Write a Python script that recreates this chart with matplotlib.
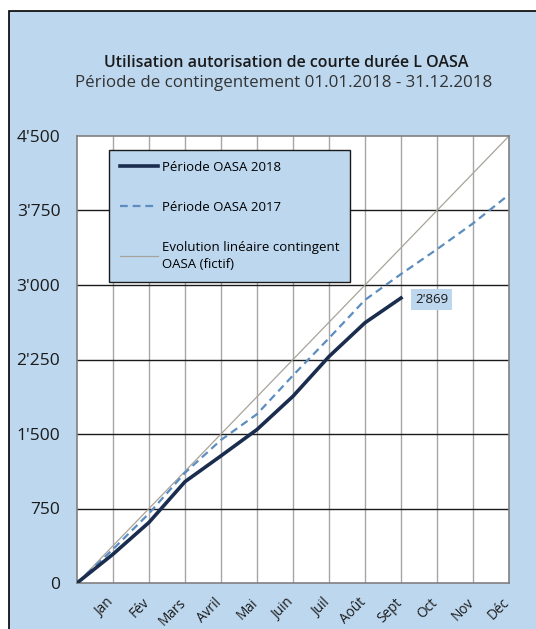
import matplotlib
matplotlib.use("Agg")
import matplotlib.pyplot as plt
from matplotlib.patches import Rectangle
from matplotlib.transforms import ScaledTranslation

plt.rcParams['font.family'] = ['Open Sans', 'DejaVu Sans']

months = ["Jan", "Fév", "Mars", "Avril", "Mai", "Juin", "Juil", "Août", "Sept", "Oct", "Nov", "Déc"]
x_pos = list(range(0, 13))
oasa_2018 = [0, 290, 610, 1020, 1280, 1545, 1880, 2280, 2620, 2869]
oasa_2017 = [0, 340, 700, 1110, 1440, 1700, 2090, 2465, 2850, 3110, 3360, 3620, 3910]
linear = [0, 375, 750, 1125, 1500, 1875, 2250, 2625, 3000, 3375, 3750, 4125, 4500]
y_ticks = [0, 750, 1500, 2250, 3000, 3750, 4500]
y_labels = ["0", "750", "1'500", "2'250", "3'000", "3'750", "4'500"]
last_label = "2'869"

W, H = 536, 629
fig = plt.figure(figsize=(W/100, H/100), dpi=100)
fig.patch.set_facecolor('white')
bg = '#BDD7EE'
fig.patches.append(Rectangle((9/W, -0.01), 1.0, 1 - 11/H + 0.01, transform=fig.transFigure,
                             facecolor=bg, edgecolor='black', linewidth=1.2, zorder=-10))

ax = fig.add_axes([77/W, 1 - 583/H, (509-77)/W, (583-136)/H])
ax.set_zorder(2)
ax.set_facecolor('white')
ax.set_xlim(0, 12)
ax.set_ylim(0, 4500)

for xv in range(1, 12):
    ax.axvline(xv, color='#A6A6A6', lw=1.0, zorder=1)
for yv in y_ticks[1:-1]:
    ax.axhline(yv, color='#1a1a1a', lw=1.0, zorder=1)

ax.plot(x_pos, linear, color='#A8A39A', lw=0.9, zorder=2, label='Evolution linéaire contingent\nOASA (fictif)')
ax.plot(x_pos[:len(oasa_2017)], oasa_2017, color='#5B8DC0', lw=1.6, ls=(0, (3.5, 2.2)), zorder=3, label='Période OASA 2017')
ax.plot(x_pos[:len(oasa_2018)], oasa_2018, color='#1B2D4F', lw=2.6, zorder=4, label='Période OASA 2018')

ax.annotate(last_label, xy=(x_pos[len(oasa_2018)-1], oasa_2018[-1]), xytext=(22, -1), textcoords='offset points',
            fontsize=9.5, color='#1a1a1a', va='center', ha='center',
            bbox=dict(boxstyle='square,pad=0.3', facecolor=bg, edgecolor='none'), zorder=5)

for s in ax.spines.values():
    s.set_color('#808080')
    s.set_linewidth(1.2)

ax.set_yticks(y_ticks)
ax.set_yticklabels(y_labels, fontsize=12.5, color='#1a1a1a')
ax.set_xticks(range(1, 13))
ax.set_xticklabels(months, rotation=45, ha='right', fontsize=9.8, color='#1a1a1a')
ax.tick_params(axis='both', length=0)
ax.tick_params(axis='y', pad=12)
ax.tick_params(axis='x', pad=9)
shift = ScaledTranslation(4/100, 0, fig.dpi_scale_trans)
for lbl in ax.get_xticklabels():
    lbl.set_transform(lbl.get_transform() + shift)

handles, labels = ax.get_legend_handles_labels()
order = [2, 1, 0]
leg = ax.legend([handles[i] for i in order], [labels[i] for i in order],
                loc='upper left', bbox_to_anchor=(109/W, 1 - 150/H), bbox_transform=fig.transFigure,
                fontsize=9.5, frameon=True, fancybox=False, framealpha=1, facecolor=bg, edgecolor='#1a1a1a',
                handlelength=2.9, handletextpad=0.3, labelspacing=2.05, borderpad=0.8, borderaxespad=0)
for t in leg.get_texts():
    t.set_linespacing(1.45)
leg.get_frame().set_linewidth(1.0)
leg.set_zorder(6)

fig.text(286/W, 1 - 63/H, "Utilisation autorisation de courte durée L OASA", ha='center', va='center',
         fontsize=11.5, fontweight='semibold', color='#1a1a1a')
fig.text(284/W, 1 - 83/H, "Période de contingentement 01.01.2018 - 31.12.2018", ha='center', va='center',
         fontsize=12.2, color='#333333')

fig.savefig('out.png', dpi=100)
